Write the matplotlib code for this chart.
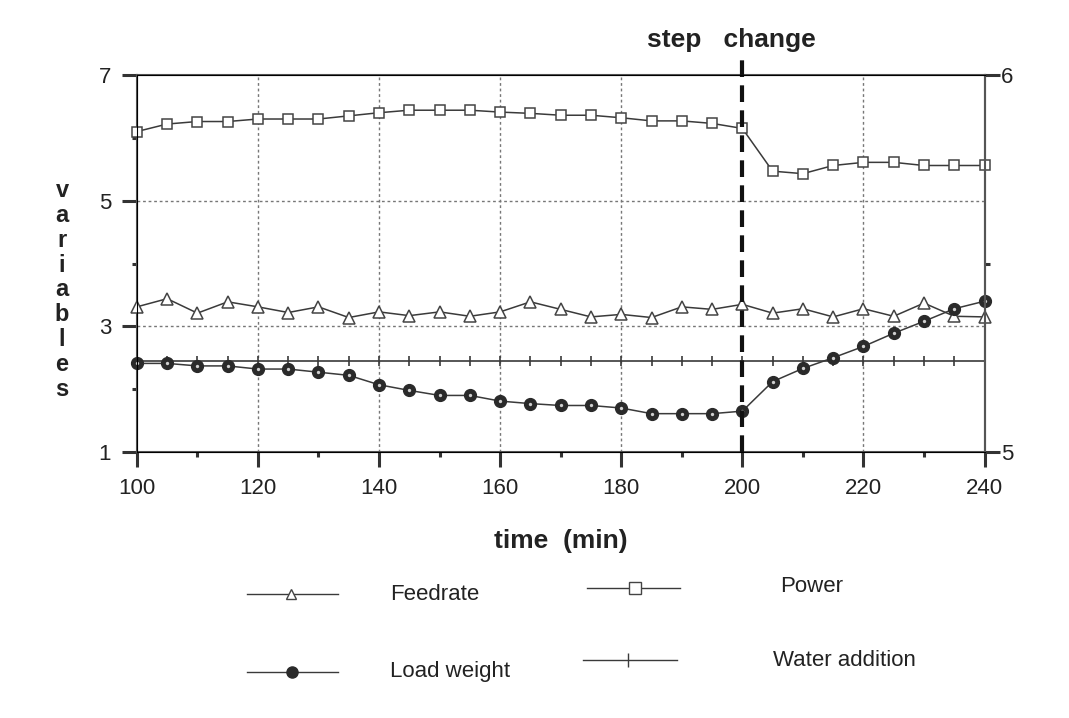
import numpy as np
import matplotlib.pyplot as plt
from matplotlib.lines import Line2D

plt.rcParams['font.family'] = ['Liberation Sans', 'DejaVu Sans']

# tiempo (min)
tiempo = np.arange(100, 241, 5)

power = [6.10, 6.22, 6.26, 6.26, 6.30, 6.30, 6.30, 6.35, 6.40, 6.44,
         6.44, 6.44, 6.41, 6.39, 6.36, 6.36, 6.32, 6.27, 6.27, 6.23,
         6.15, 5.47, 5.43, 5.56, 5.61, 5.61, 5.56, 5.56, 5.56]
feedrate = [3.31, 3.44, 3.21, 3.39, 3.31, 3.22, 3.31, 3.14, 3.23, 3.17,
            3.23, 3.16, 3.23, 3.39, 3.27, 3.15, 3.19, 3.14, 3.31, 3.27,
            3.35, 3.21, 3.28, 3.15, 3.28, 3.16, 3.37, 3.16, 3.15]
load_weight = [2.41, 2.41, 2.37, 2.37, 2.32, 2.32, 2.27, 2.22, 2.07, 1.98,
               1.90, 1.90, 1.81, 1.77, 1.74, 1.74, 1.70, 1.61, 1.61, 1.61,
               1.65, 2.12, 2.33, 2.50, 2.68, 2.89, 3.08, 3.28, 3.40]
water = [2.45] * len(tiempo)

step_time = 200

gris = '#3a3a3a'

fig = plt.figure(figsize=(10.69, 7.18), dpi=100)
ax = fig.add_axes([0.128, 0.3705, 0.793, 0.525])

# rejilla punteada
for xv in [120, 140, 160, 180, 220]:
    ax.axvline(xv, color='#777777', lw=1, ls=(0, (2, 2)), zorder=0)
for yv in [3, 5]:
    ax.axhline(yv, color='#777777', lw=1, ls=(0, (2, 2)), zorder=0)

ax.plot(tiempo, water, color=gris, lw=1.2, marker='|', ms=7, mew=1.2,
        zorder=2, clip_on=False)
ax.plot(tiempo, power, color=gris, lw=1.1, marker='s', ms=7.5, mfc='white',
        mec='#444444', mew=1.1, zorder=3, clip_on=False)
ax.plot(tiempo, feedrate, color=gris, lw=1.1, marker='^', ms=8.5, mfc='white',
        mec='#444444', mew=1.1, zorder=3, clip_on=False)
ax.plot(tiempo, load_weight, color=gris, lw=1.1, marker='o', ms=8.5, mfc='#2a2a2a',
        mec='#2a2a2a', zorder=4, clip_on=False)
ax.plot(tiempo, load_weight, ls='none', marker='o', ms=2.4, mfc='#d0d0d0',
        mec='none', zorder=5, clip_on=False)

# cambio de escalon
ax.plot([step_time, step_time], [1, 7.28], color='#111111', lw=3,
        ls=(0, (4, 2)), clip_on=False, zorder=6)
fig.text(731 / 1069, 1 - 40 / 718, 'step   change', ha='center', va='center',
         fontsize=19, fontweight='bold', color='#222222')

ax.set_xlim(100, 240)
ax.set_ylim(1, 7)
ax.set_xticks(range(100, 241, 20))
ax.set_xticks(range(110, 240, 20), minor=True)
ax.set_yticks([1, 3, 5, 7])
ax.set_yticks([2, 4, 6], minor=True)
ax.tick_params(axis='both', which='major', labelsize=16, length=10.5, width=2.2,
               pad=8, direction='out', color='#333333', labelcolor='#222222')
ax.tick_params(axis='both', which='minor', length=3.5, width=2.2, direction='out',
               color='#333333')
for s in ax.spines.values():
    s.set_color('#555555')
    s.set_linewidth(1.5)

ax2 = ax.twinx()
ax2.set_ylim(5, 6)
ax2.set_yticks([5, 6])
ax2.set_yticks([5.5], minor=True)
ax2.tick_params(axis='y', which='major', labelsize=16, length=10.5, width=2.2,
                pad=1.5, direction='out', color='#333333', labelcolor='#222222')
ax2.tick_params(axis='y', which='minor', length=3.5, width=2.2, direction='out',
                color='#333333')
ax2.spines['right'].set_color('#555555')
ax2.spines['right'].set_linewidth(1.5)

fig.text(561 / 1069, 1 - 541 / 718, 'time  (min)', ha='center', va='center',
         fontsize=19, fontweight='bold', color='#222222')
fig.text(62 / 1069, 1 - 290 / 718, '\n'.join('variables'), ha='center',
         va='center', fontsize=17, fontweight='bold', linespacing=1.1,
         color='#222222')

# leyenda dibujada a mano
def entrada(x0, x1, y, xm, label, xt, yt, **kw):
    fig.add_artist(Line2D([x0 / 1069, x1 / 1069], [1 - y / 718, 1 - y / 718],
                          color=gris, lw=1))
    fig.add_artist(Line2D([xm / 1069], [1 - y / 718], ls='none', **kw))
    fig.text(xt / 1069, 1 - yt / 718, label, fontsize=16, va='center',
             color='#222222')

entrada(247, 338, 594, 291, 'Feedrate', 390, 595, marker='^', ms=7,
        mfc='white', mec='#444444')
entrada(587, 680, 588, 635, 'Power', 780, 586, marker='s', ms=8,
        mfc='white', mec='#444444')
entrada(247, 338, 672, 292, 'Load weight', 390, 672, marker='o', ms=8,
        mfc='#2a2a2a', mec='#2a2a2a')
entrada(583, 677, 660, 628, 'Water addition', 773, 660, marker='|', ms=10,
        mec=gris)

fig.savefig('out.png', dpi=100)
